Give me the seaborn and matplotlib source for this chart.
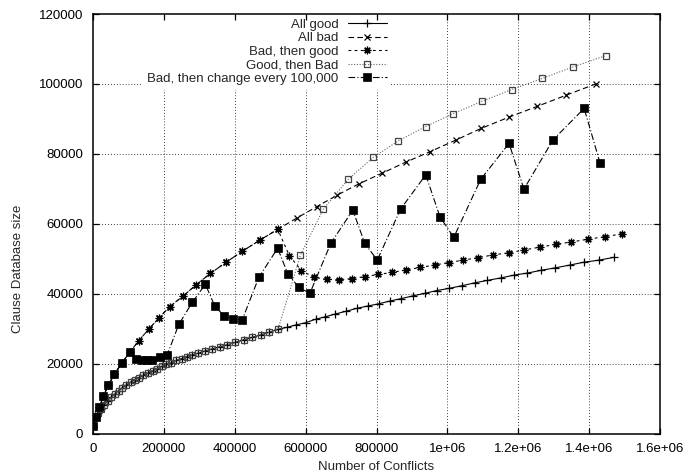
import matplotlib
matplotlib.use("Agg")
import matplotlib.pyplot as plt
import seaborn as sns

# Clause database size sampled at each database reduction
good_x = [1000, 7000, 15000, 23000, 32000, 41000, 51000, 61000, 72000, 83000,
          94000, 106000, 118000, 130000, 142000, 155000, 168000, 181000, 194000, 207000,
          221000, 235000, 250000, 265000, 280000, 297000, 316000, 336000, 357000, 379000,
          402000, 425000, 449000, 473000, 498000, 522000, 548000, 574000, 600000, 628000,
          656000, 684000, 715000, 744000, 776000, 806000, 838000, 870000, 904000, 936000,
          970000, 1004000, 1042000, 1077000, 1113000, 1150000, 1188000, 1226000, 1265000, 1305000,
          1346000, 1385000, 1428000, 1470000]
good_y = [2200, 4600, 5900, 7100, 8300, 9400, 10400, 11300, 12300, 13100,
          13900, 14700, 15400, 16000, 16700, 17300, 17900, 18500, 19200, 19800,
          20300, 20900, 21400, 22000, 22500, 23000, 23600, 24200, 24800, 25400,
          26100, 26800, 27500, 28200, 29000, 29800, 30400, 31100, 31700, 32700,
          33400, 34200, 35000, 35800, 36500, 37100, 37900, 38600, 39400, 40100,
          40900, 41500, 42300, 43100, 43800, 44500, 45300, 45900, 46700, 47400,
          48200, 49000, 49600, 50400]

bad_x = [1000, 8000, 18000, 29000, 43500, 60500, 81000, 103500, 128800, 157000,
         185300, 216300, 253900, 291700, 331300, 375600, 420800, 470500, 521300, 576100,
         631600, 689000, 750000, 814200, 881900, 950600, 1023000, 1095600, 1173800, 1253800,
         1335600, 1418500]
bad_y = [2100, 4600, 7500, 10700, 13900, 17000, 20100, 23200, 26550, 29800,
         33000, 36300, 39300, 42600, 45800, 49000, 52100, 55300, 58400, 61700,
         64900, 68200, 71400, 74400, 77600, 80600, 83900, 87300, 90500, 93600,
         96800, 100000]

bad_good_x = [1000, 8000, 18000, 29000, 43500, 60500, 81000, 103500, 128800, 157000,
              185300, 216300, 253900, 291700, 331300, 375600, 420800, 470500, 521300, 554400,
              588200, 623000, 658900, 693600, 730000, 767500, 805000, 844300, 883900, 923000,
              963800, 1003500, 1044800, 1086100, 1129600, 1173800, 1216000, 1260400, 1305500, 1349900,
              1397900, 1443900, 1491900]
bad_good_y = [2100, 4600, 7500, 10700, 13900, 17000, 20100, 23200, 26550, 29800,
              33000, 36300, 39300, 42600, 45800, 49000, 52100, 55300, 58400, 50800,
              46600, 44700, 44100, 44000, 44300, 44900, 45500, 46100, 46800, 47500,
              48200, 48900, 49600, 50300, 51100, 51700, 52500, 53300, 54100, 54800,
              55600, 56300, 57100]

good_bad_x = [1000, 7000, 15000, 23000, 32000, 41000, 51000, 61000, 72000, 83000,
              94000, 106000, 118000, 130000, 142000, 155000, 168000, 181000, 194000, 207000,
              221000, 235000, 250000, 265000, 280000, 297000, 316000, 336000, 357000, 379000,
              402000, 425000, 449000, 473000, 498000, 522000, 585400, 650000, 720100, 790700,
              861300, 938400, 1016600, 1097000, 1181300, 1268000, 1355500, 1446700]
good_bad_y = [2200, 4600, 5900, 7100, 8300, 9400, 10400, 11300, 12300, 13100,
              13900, 14700, 15400, 16000, 16700, 17300, 17900, 18500, 19200, 19800,
              20300, 20900, 21400, 22000, 22500, 23000, 23600, 24200, 24800, 25400,
              26100, 26800, 27500, 28200, 29000, 29800, 51070, 64200, 72700, 79000,
              83700, 87800, 91500, 95000, 98400, 101600, 104900, 108100]

switch_x = [1000, 8000, 18000, 29000, 43500, 60500, 81000, 103500, 122000, 138000,
            152000, 166000, 188000, 209000, 242000, 280000, 317000, 343000, 369000, 394000,
            421000, 468000, 521000, 550000, 581000, 612000, 671000, 733000, 767000, 802000,
            868000, 939000, 979000, 1018000, 1094000, 1174000, 1216000, 1298000, 1386000, 1431000]
switch_y = [2100, 4600, 7500, 10700, 13900, 17000, 20100, 23200, 21400, 21000,
            20900, 21100, 21800, 22400, 31200, 37500, 42700, 36600, 33700, 32800,
            32500, 44700, 53000, 45600, 41800, 40100, 54400, 63900, 54400, 49600,
            64200, 74000, 62000, 56100, 72700, 83000, 69900, 84000, 93000, 77300]

series_labels = ["All good", "All bad", "Bad, then good", "Good, then Bad",
                 "Bad, then change every 100,000"]

x_ticks = [0, 200000, 400000, 600000, 800000, 1000000, 1200000, 1400000, 1600000]
x_tick_labels = ["0", "200000", "400000", "600000", "800000", "1e+06", "1.2e+06",
                 "1.4e+06", "1.6e+06"]
y_ticks = [0, 20000, 40000, 60000, 80000, 100000, 120000]
y_tick_labels = ["0", "20000", "40000", "60000", "80000", "100000", "120000"]

sns.set_style("ticks")
plt.rcParams["font.family"] = ["Liberation Sans", "DejaVu Sans"]
plt.rcParams["font.size"] = 9.5

fig = plt.figure(figsize=(6.85, 4.74), dpi=100)
ax = fig.add_axes([0.1358, 0.0854, 0.8277, 0.8850])

lw = 0.8
sns.lineplot(x=good_x, y=good_y, ax=ax, color="black", lw=lw, linestyle="-",
             marker="+", markersize=5.5, mew=0.9, mec="black",
             label=series_labels[0], zorder=2)
sns.lineplot(x=bad_x, y=bad_y, ax=ax, color="black", lw=lw, linestyle=(0, (5, 3)),
             marker="x", markersize=4.5, mew=0.9, mec="black",
             label=series_labels[1], zorder=2)
sns.lineplot(x=bad_good_x, y=bad_good_y, ax=ax, color="black", lw=lw,
             linestyle=(0, (2.5, 3)), marker=(8, 2, 0), markersize=5.5, mew=0.9,
             mec="black", label=series_labels[2], zorder=2)
sns.lineplot(x=good_bad_x, y=good_bad_y, ax=ax, color="#666666", lw=lw,
             linestyle=(0, (1, 1.5)), marker="s", markersize=5, mew=0.9,
             mfc="none", mec="#444444", label=series_labels[3], zorder=2)
sns.lineplot(x=switch_x, y=switch_y, ax=ax, color="black", lw=lw,
             linestyle=(0, (6, 2, 1, 2)), marker="s", markersize=5.5, mew=0.5,
             mfc="black", mec="black", label=series_labels[4], zorder=2)

ax.set_xlim(0, 1600000)
ax.set_ylim(0, 120000)
ax.set_xticks(x_ticks)
ax.set_xticklabels(x_tick_labels)
ax.set_yticks(y_ticks)
ax.set_yticklabels(y_tick_labels)
ax.tick_params(direction="in", length=4.5, width=0.9, top=True, right=True,
               labelsize=9.5, colors="black")
ax.tick_params(axis="x", pad=7)
ax.tick_params(axis="y", pad=7)

# dotted grid kept underneath the opaque key, ticks and border stay on top
ax.grid(False)
grid_style = dict(color="black", linestyle=(0, (1, 2.5)), linewidth=0.6, zorder=0.5)
for xv in x_ticks[1:-1]:
    ax.axvline(xv, **grid_style)
for yv in y_ticks[1:-1]:
    ax.axhline(yv, **grid_style)
ax.xaxis.set_zorder(6)
ax.yaxis.set_zorder(6)
for sp in ax.spines.values():
    sp.set_visible(True)
    sp.set_linewidth(1.1)
    sp.set_color("black")
    sp.set_zorder(7)

ax.set_xlabel("Number of Conflicts", fontsize=9.5)
ax.set_ylabel("Clause Database size", fontsize=9.5)
ax.xaxis.set_label_coords(0.5, -0.066)
ax.yaxis.set_label_coords(-0.122, 0.392)

leg = ax.legend(loc="upper right", bbox_to_anchor=(0.526, 1.0), frameon=True,
                fancybox=False, framealpha=1, edgecolor="none", facecolor="white",
                markerfirst=False, numpoints=1, handlelength=2.95,
                handletextpad=0.68, labelspacing=0.1, borderpad=0.35,
                borderaxespad=0, fontsize=9.5)
leg.set_zorder(3)

fig.savefig("out.png", dpi=100)
